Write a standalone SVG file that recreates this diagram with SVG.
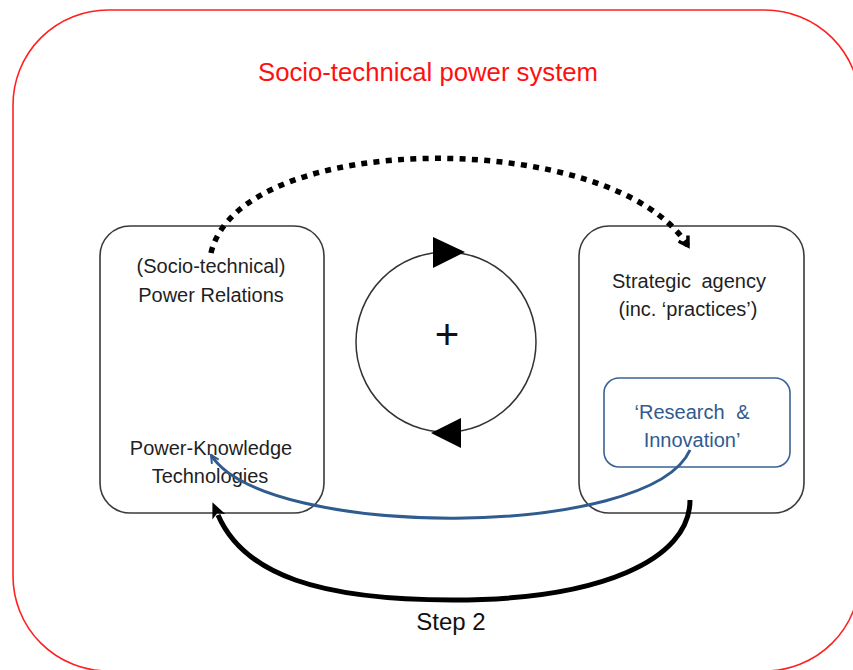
<svg xmlns="http://www.w3.org/2000/svg" width="853" height="670" viewBox="0 0 853 670">
<style>
.t{font-family:"Liberation Sans",Arial,sans-serif;font-size:20px;fill:#1f1f1f;text-anchor:middle}
.b{fill:#fff;stroke:#3a3a3a;stroke-width:1.6}
.blue{fill:#2f5b8e}
</style>
<defs>
<marker id="ah" viewBox="0 0 16 14" markerUnits="userSpaceOnUse" markerWidth="16" markerHeight="14" refX="2" refY="7" orient="auto">
<path d="M0,0 L16,7 L0,14 L4,7 z" fill="#000"/>
</marker>
<marker id="bh" viewBox="0 0 10 10" markerUnits="userSpaceOnUse" markerWidth="10" markerHeight="10" refX="9" refY="5" orient="auto">
<path d="M1,1 L9,5 L1,9" fill="none" stroke="#2f5b8e" stroke-width="2"/>
</marker>
<marker id="dh" viewBox="0 0 14 14" markerUnits="userSpaceOnUse" markerWidth="14" markerHeight="14" refX="11" refY="7" orient="auto">
<path d="M2,1.5 L11,7 L2,12.5" fill="none" stroke="#000" stroke-width="3.5"/>
</marker>
</defs>
<rect width="853" height="670" fill="#fff"/>
<g id="system">
<rect x="13" y="10" width="847" height="661" rx="95" ry="95" fill="none" stroke="#ff2020" stroke-width="1.6"/>
<text x="428" y="81" font-family="Liberation Sans,Arial,sans-serif" font-size="25" fill="#ff1010" text-anchor="middle" textLength="340" lengthAdjust="spacingAndGlyphs">Socio-technical power system</text>
</g>
<g id="power-relations">
<rect class="b" x="100" y="226" width="224" height="287" rx="30"/>
<text class="t" x="211" y="273">(Socio-technical)</text>
<text class="t" x="211" y="302">Power Relations</text>
<text class="t" x="211" y="455">Power-Knowledge</text>
<text class="t" x="210" y="483">Technologies</text>
</g>
<g id="strategic-agency">
<rect class="b" x="579" y="226" width="225" height="287" rx="30"/>
<text class="t" x="689" y="288" word-spacing="5">Strategic agency</text>
<text class="t" x="688" y="316">(inc. ‘practices’)</text>
</g>
<g id="research-innovation">
<rect x="604" y="378" width="186" height="89" rx="15" fill="#fff" stroke="#3b6294" stroke-width="1.6"/>
<text class="t blue" x="692" y="419" word-spacing="6">‘Research &amp;</text>
<text class="t blue" x="692" y="447">Innovation’</text>
</g>
<g id="cycle">
<circle cx="446" cy="342" r="90" fill="none" stroke="#333" stroke-width="1.5"/>
<path d="M433,237 L465,252 L433,268 z" fill="#000"/>
<path d="M461,418 L461,448 L431,433 z" fill="#000"/>
<text x="447" y="349" font-family="Liberation Sans,Arial,sans-serif" font-size="42" fill="#111" text-anchor="middle">+</text>
</g>
<g id="connectors">
<path d="M211,253 C240,128 615,128 688,246" fill="none" stroke="#000" stroke-width="5.5" stroke-dasharray="6 6.3" marker-end="url(#dh)"/>
<path d="M690,450 C650,540 265,540 211,455" fill="none" stroke="#2f5b8e" stroke-width="3" marker-end="url(#bh)"/>
<path d="M690,500 C690,560 600,600 453,600 C320,600 244,575 218,515" fill="none" stroke="#000" stroke-width="5" marker-end="url(#ah)"/>
<text x="451" y="630" font-family="Liberation Sans,Arial,sans-serif" font-size="24" fill="#111" text-anchor="middle">Step 2</text>
</g>
</svg>
